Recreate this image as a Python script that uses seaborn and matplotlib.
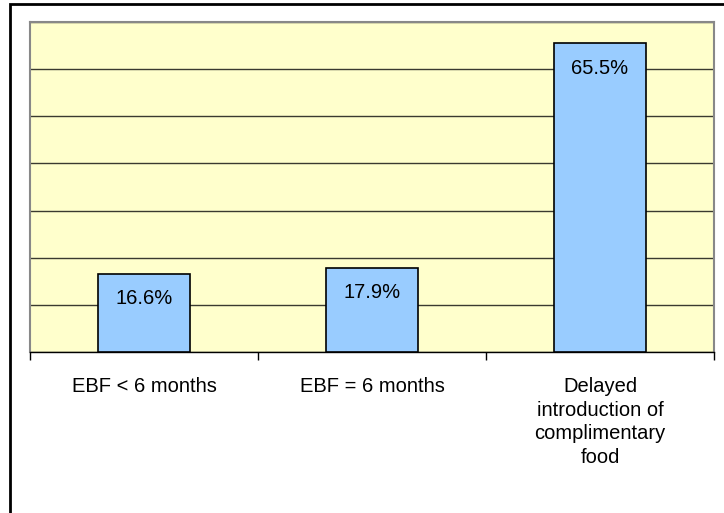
import matplotlib
matplotlib.use("Agg")
import matplotlib.pyplot as plt
import seaborn as sns
import pandas as pd
from matplotlib.patches import Rectangle

# data
categories = ["EBF < 6 months", "EBF = 6 months",
              "Delayed\nintroduction of\ncomplimentary\nfood"]
values = [16.6, 17.9, 65.5]
value_labels = ["16.6%", "17.9%", "65.5%"]

df = pd.DataFrame({"category": categories, "value": values})

sns.set_theme(style="white")
plt.rcParams["font.family"] = ["Liberation Sans", "DejaVu Sans"]
plt.rcParams["text.color"] = "black"

fig = plt.figure(figsize=(7.24, 5.13), dpi=100)
ax = fig.add_axes([30 / 724, 1 - 352 / 513, 684 / 724, 330 / 513])

sns.barplot(data=df, x="category", y="value", ax=ax, color="#99CCFF",
            saturation=1, width=0.4, edgecolor="black", linewidth=1.2, zorder=3)

ax.set_facecolor("#FFFFCC")
ax.set_ylim(0, 70)
ax.set_xlim(-0.5, 2.5)
ax.set_yticks(range(0, 71, 10))
ax.yaxis.grid(True, color="#3a3a30", linewidth=1, zorder=0)
ax.set_axisbelow(True)
ax.tick_params(axis="y", left=False, labelleft=False)
ax.set_xlabel("")
ax.set_ylabel("")

# ticks between categories
ax.set_xticks([-0.5, 0.5, 1.5, 2.5])
ax.set_xticklabels([])
ax.tick_params(axis="x", bottom=True, length=6, width=1, color="black", direction="out")
for i, c in enumerate(categories):
    ax.text(i, -0.075, c, transform=ax.get_xaxis_transform(), ha="center", va="top",
            fontsize=14.5, linespacing=1.32, color="black")

for s in ["top", "right", "left"]:
    ax.spines[s].set_color("#888888")
    ax.spines[s].set_linewidth(1.5)
ax.spines["bottom"].set_color("black")
ax.spines["bottom"].set_linewidth(1)

for p, lab in zip(ax.patches, value_labels):
    ax.annotate(lab, (p.get_x() + p.get_width() / 2, p.get_height()),
                xytext=(0, -18), textcoords="offset points",
                ha="center", va="center", fontsize=14.5, color="black", zorder=4)

# outer chart frame
fig.patches.append(Rectangle((10 / 724, -0.1), 1.2, 1 - 4 / 513 + 0.1,
                             transform=fig.transFigure, fill=False,
                             edgecolor="black", linewidth=2))

fig.savefig("out.png", dpi=100)
